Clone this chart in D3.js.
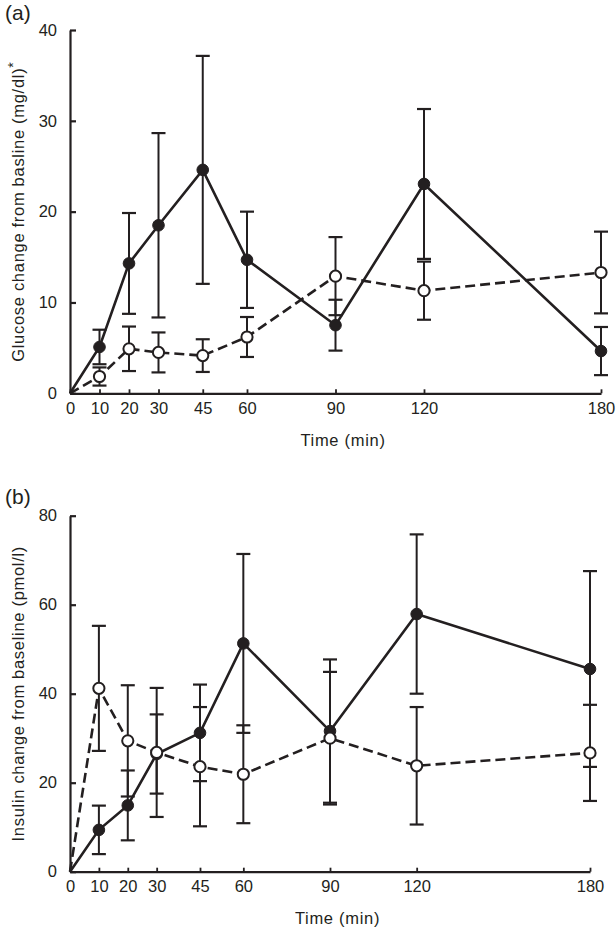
<!DOCTYPE html>
<html><head><meta charset="utf-8">
<script src="https://cdn.jsdelivr.net/npm/d3@7"></script>
<style>
html,body{margin:0;padding:0;background:#fff;}
svg{display:block;}
text{font-family:"Liberation Sans",Arial,Helvetica,sans-serif;fill:#231f20;}
</style></head>
<body>
<svg id="chart" width="616" height="930"></svg>
<script>
// ---- data ----
const times = [0, 10, 20, 30, 45, 60, 90, 120, 180];

const glucoseSolid    = [0, 5.1, 14.3, 18.5, 24.6, 14.7, 7.5, 23.05, 4.65];
const glucoseSolidErr = [0, 1.9, 5.55, 10.15, 12.55, 5.3, 2.8, 8.25, 2.65];
const glucoseOpen     = [0, 1.85, 4.9, 4.5, 4.15, 6.2, 12.9, 11.3, 13.3];
const glucoseOpenErr  = [0, 1.0, 2.45, 2.2, 1.8, 2.2, 4.3, 3.2, 4.5];

const insulinSolid    = [0, 9.4, 14.9, 26.45, 31.2, 51.3, 31.6, 57.9, 45.55];
const insulinSolidErr = [0, 5.45, 7.85, 8.9, 10.85, 20.1, 16.1, 17.9, 22.0];
const insulinOpen     = [0, 41.2, 29.4, 26.8, 23.6, 21.9, 30.0, 23.8, 26.7];
const insulinOpenErr  = [0, 14.05, 12.5, 14.5, 13.4, 11.0, 14.9, 13.2, 10.8];

const glucoseTicks = [0, 10, 20, 30, 40];
const insulinTicks = [0, 20, 40, 60, 80];

const ink = "#231f20";
const svg = d3.select("#chart");

function panel(opts) {
  const g = svg.append("g");
  const x = d3.scaleLinear().domain([0, 180]).range(opts.xRange);
  const y = d3.scaleLinear().domain(opts.yDomain).range(opts.yRange);
  const y0 = opts.yRange[0];

  // y axis
  const ya = g.append("g").attr("transform", `translate(${opts.xRange[0]},0)`)
    .call(d3.axisLeft(y).tickValues(opts.yTicks).tickSizeInner(-6).tickSizeOuter(0).tickPadding(13));
  ya.select(".domain").attr("stroke", ink).attr("stroke-width", 2.2);
  ya.selectAll(".tick line").attr("stroke", ink).attr("stroke-width", 2.2);
  ya.selectAll(".tick text").attr("font-size", 16.5).attr("fill", ink)
    .attr("font-family", '"Liberation Sans",Arial,sans-serif');

  // x axis
  const xa = g.append("g").attr("transform", `translate(0,${y0})`)
    .call(d3.axisBottom(x).tickValues(times).tickSizeInner(-4).tickSizeOuter(0).tickPadding(9));
  xa.select(".domain").attr("stroke", ink).attr("stroke-width", 2.2);
  xa.selectAll(".tick line").attr("stroke", ink).attr("stroke-width", 1.8);
  xa.selectAll(".tick text").attr("font-size", 16.5).attr("fill", ink)
    .attr("font-family", '"Liberation Sans",Arial,sans-serif');

  // x title
  g.append("text")
    .attr("x", (opts.xRange[0] + opts.xRange[1]) / 2 + 7.5)
    .attr("y", y0 + 52.5)
    .attr("text-anchor", "middle").attr("font-size", 16.5).attr("letter-spacing", 0.7)
    .text("Time (min)");

  // y title
  const yc = (opts.yRange[0] + opts.yRange[1]) / 2;
  const yt = g.append("text")
    .attr("transform", `translate(24,${yc}) rotate(-90)`)
    .attr("text-anchor", "middle").attr("font-size", 16.5).attr("letter-spacing", 0.7);
  yt.append("tspan").text(opts.yTitle);
  if (opts.yTitleSup) {
    yt.append("tspan").attr("dy", "-0.45em").attr("font-size", 14).text(opts.yTitleSup);
  }

  // panel letter
  g.append("text").attr("x", 5).attr("y", opts.letterY)
    .attr("font-size", 21).text(opts.letter);

  const series = [
    {v: opts.solid, e: opts.solidErr, dash: null, fill: ink},
    {v: opts.open, e: opts.openErr, dash: "10,5", fill: "#fff"}
  ];

  // error bars
  series.forEach(s => {
    const eb = g.append("g");
    times.forEach((t, i) => {
      if (!s.e[i]) return;
      const cx = x(t), yt1 = y(s.v[i] + s.e[i]), yb = y(s.v[i] - s.e[i]);
      eb.append("line").attr("x1", cx).attr("x2", cx).attr("y1", yt1).attr("y2", yb)
        .attr("stroke", ink).attr("stroke-width", 2);
      [yt1, yb].forEach(yy => eb.append("line")
        .attr("x1", cx - 7).attr("x2", cx + 7).attr("y1", yy).attr("y2", yy)
        .attr("stroke", ink).attr("stroke-width", 2.2));
    });
  });

  // lines
  const line = d3.line().x((d, i) => x(times[i])).y(d => y(d));
  series.forEach(s => {
    g.append("path").datum(s.v).attr("d", line)
      .attr("fill", "none").attr("stroke", ink).attr("stroke-width", 2.6)
      .attr("stroke-dasharray", s.dash);
  });

  // markers (skip the origin)
  series.forEach(s => {
    g.append("g").selectAll("circle").data(s.v.slice(1)).join("circle")
      .attr("cx", (d, i) => x(times[i + 1])).attr("cy", d => y(d))
      .attr("r", s.fill === ink ? 5.8 : 5.6)
      .attr("fill", s.fill).attr("stroke", ink).attr("stroke-width", s.fill === ink ? 1 : 2);
  });
}

panel({
  xRange: [70, 601], yDomain: [0, 40], yRange: [393.3, 30], yTicks: glucoseTicks,
  solid: glucoseSolid, solidErr: glucoseSolidErr, open: glucoseOpen, openErr: glucoseOpenErr,
  yTitle: "Glucose change from basline (mg/dl)", yTitleSup: "*",
  letter: "(a)", letterY: 20
});
panel({
  xRange: [70, 590], yDomain: [0, 80], yRange: [871.7, 515.7], yTicks: insulinTicks,
  solid: insulinSolid, solidErr: insulinSolidErr, open: insulinOpen, openErr: insulinOpenErr,
  yTitle: "Insulin change from baseline (pmol/l)", yTitleSup: null,
  letter: "(b)", letterY: 504
});
</script>
</body></html>
